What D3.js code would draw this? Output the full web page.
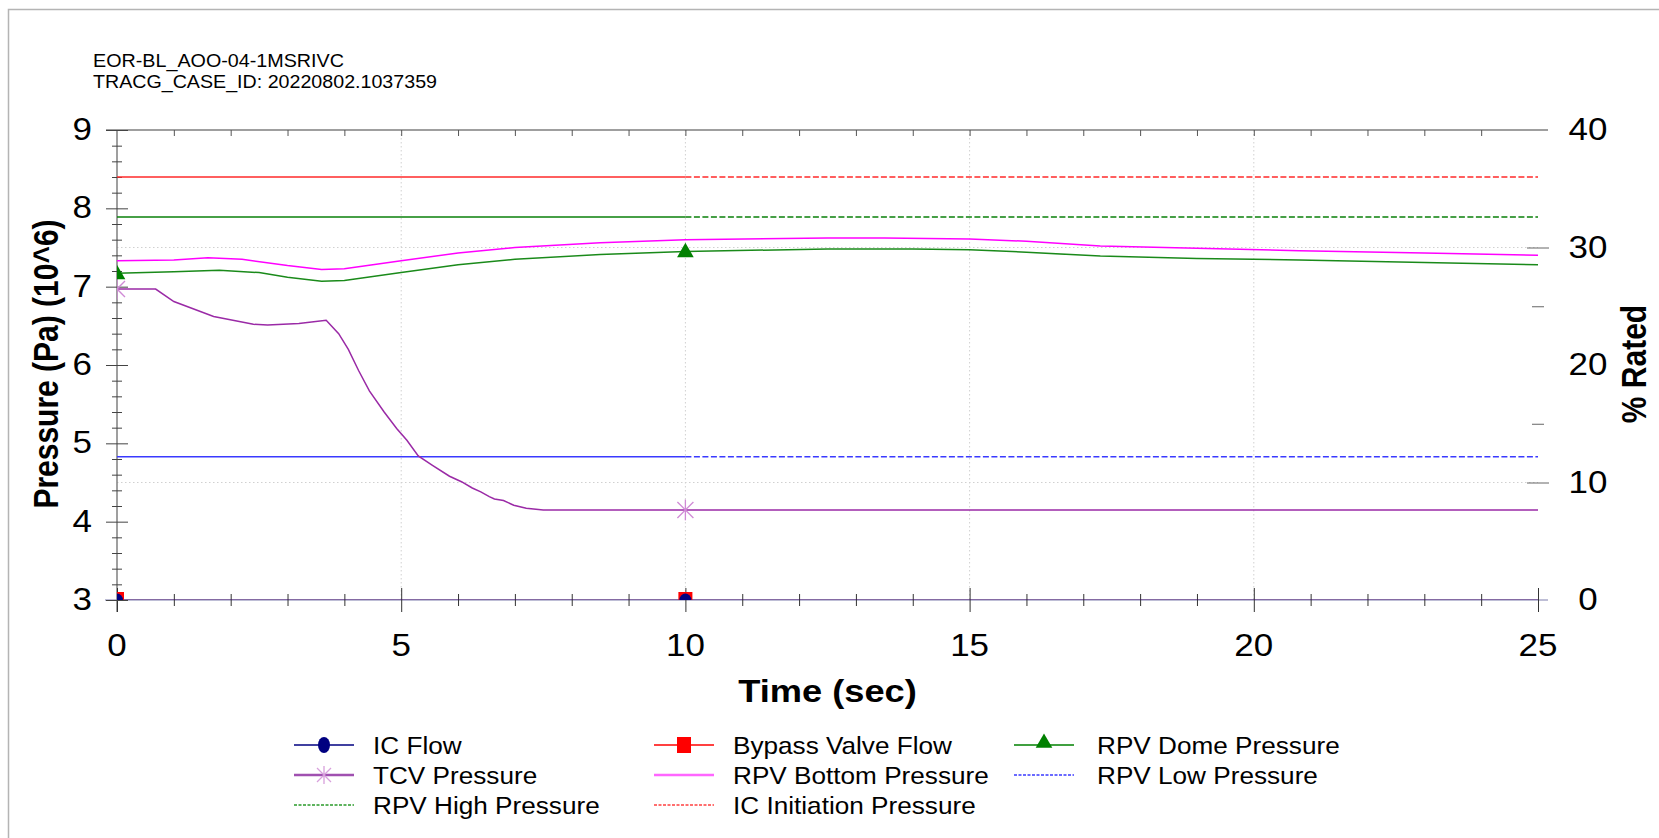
<!DOCTYPE html>
<html><head><meta charset="utf-8">
<script src="https://cdn.jsdelivr.net/npm/d3@7"></script>
<style>
body{margin:0;background:#fff;}
svg{display:block;font-family:"Liberation Sans", Arial, sans-serif;}
</style>
</head><body>
<svg id="c" width="1659" height="838"></svg>
<script>
// ---------- data ----------
const titleLines = ["EOR-BL_AOO-04-1MSRIVC", "TRACG_CASE_ID: 20220802.1037359"];
const xTicks = [0, 5, 10, 15, 20, 25];
const yLeftTicks = [3, 4, 5, 6, 7, 8, 9];
const yRightTicks = [0, 10, 20, 30, 40];
const xTitle = "Time (sec)";
const yLeftTitle = "Pressure (Pa) (10^6)";
const yRightTitle = "% Rated";

const legendNames = ["IC Flow", "Bypass Valve Flow", "RPV Dome Pressure",
  "TCV Pressure", "RPV Bottom Pressure", "RPV Low Pressure",
  "RPV High Pressure", "IC Initiation Pressure"];

// right axis (% Rated)
const icFlowTime = [0, 25];
const icFlowPct = [0, 0];
const bypassTime = [0, 25];
const bypassPct = [0, 0];

// left axis (Pressure, 10^6 Pa)
const domeTime = [0, 1.0, 1.8, 2.5, 3.0, 3.6, 4.0, 5.0, 6.0, 7.0, 8.5, 10, 12.5, 14, 15, 16, 17.3, 19, 20.8, 23, 25];
const domePressure = [7.17, 7.19, 7.21, 7.18, 7.12, 7.07, 7.08, 7.18, 7.28, 7.35, 7.41, 7.45, 7.48, 7.48, 7.47, 7.44, 7.39, 7.36, 7.34, 7.31, 7.28];

const bottomTime = [0, 1.0, 1.6, 2.2, 3.0, 3.6, 4.0, 5.0, 6.0, 7.0, 8.5, 10, 12.5, 13.5, 15, 16, 17.3, 19, 20.8, 23, 25];
const bottomPressure = [7.33, 7.34, 7.37, 7.35, 7.27, 7.22, 7.23, 7.33, 7.43, 7.50, 7.56, 7.60, 7.62, 7.62, 7.61, 7.58, 7.52, 7.49, 7.46, 7.43, 7.40];

const tcvTime = [0, 0.68, 1.0, 1.7, 2.4, 2.65, 3.2, 3.68, 3.9, 4.07, 4.25, 4.44, 4.7, 4.92, 5.1, 5.3, 5.55, 5.85, 6.06, 6.25, 6.4, 6.55, 6.64, 6.8, 6.98, 7.2, 7.5, 10, 25];
const tcvPressure = [6.97, 6.97, 6.81, 6.62, 6.52, 6.51, 6.53, 6.57, 6.40, 6.20, 5.93, 5.67, 5.40, 5.19, 5.04, 4.84, 4.72, 4.58, 4.51, 4.43, 4.38, 4.32, 4.29, 4.27, 4.21, 4.17, 4.15, 4.15, 4.15];

const lowTime = [0, 25];
const lowPressure = [4.83, 4.83];
const highTime = [0, 25];
const highPressure = [7.89, 7.89];
const icInitTime = [0, 25];
const icInitPressure = [8.40, 8.40];

const markerTimes = [0, 10];
const solidUntil = 10;   // set-point lines drawn solid up to this time, dashed after

// ---------- layout ----------
const L = 117, R = 1538, T = 130, B = 600;
const svg = d3.select("#c");

const x = d3.scaleLinear().domain([0, 25]).range([L, R]);
const yL = d3.scaleLinear().domain([3, 9]).range([B, T]);
const yR = d3.scaleLinear().domain([0, 40]).range([B, T]);

function stext(g, px, py, str, size, anchor, weight, sx, rot) {
  return g.append("text")
    .attr("transform", `translate(${px},${py})` + (rot ? " rotate(-90) scale(1," + sx + ")" : ` scale(${sx},1)`))
    .attr("text-anchor", anchor)
    .attr("font-size", size)
    .attr("font-weight", weight || "normal")
    .attr("fill", "#000")
    .text(str);
}

// outer frame
svg.append("rect").attr("x", 8.5).attr("y", 9.5).attr("width", 1800).attr("height", 1000)
  .attr("fill", "none").attr("stroke", "#b4b4b4").attr("stroke-width", 1.5);

// title
const titleWidths = [251, 344];
titleLines.forEach((s, i) => {
  svg.append("text").attr("x", 93).attr("y", 67 + i * 20.5).attr("font-size", 18.5).attr("fill", "#000")
    .attr("textLength", titleWidths[i]).attr("lengthAdjust", "spacingAndGlyphs").text(s);
});

// grid
const grid = svg.append("g");
[5, 10, 15, 20].forEach(v => {
  grid.append("line").attr("x1", x(v)).attr("x2", x(v)).attr("y1", T).attr("y2", B)
    .attr("stroke", "#d0d0d0").attr("stroke-dasharray", "1.5,2.5");
});
[10, 30].forEach(v => {
  grid.append("line").attr("x1", L).attr("x2", R).attr("y1", yR(v)).attr("y2", yR(v))
    .attr("stroke", "#d0d0d0").attr("stroke-dasharray", "1.5,2.5");
});

// axes frame lines
const axisCol = "#7f7f7f";
svg.append("line").attr("x1", L - 11).attr("x2", R + 10).attr("y1", T).attr("y2", T).attr("stroke", axisCol).attr("stroke-width", 1.5);
svg.append("line").attr("x1", L - 12).attr("x2", R + 10).attr("y1", B).attr("y2", B).attr("stroke", "#a8a8c8").attr("stroke-width", 1.5);
svg.append("line").attr("x1", L).attr("x2", L).attr("y1", T).attr("y2", B + 12).attr("stroke", axisCol).attr("stroke-width", 1.5);

// bottom axis ticks (crossing)
const xAxisG = svg.append("g").attr("transform", `translate(0,${B})`)
  .call(d3.axisBottom(x).tickValues(d3.range(0, 26, 1)).tickSize(6).tickFormat(""));
xAxisG.select(".domain").remove();
xAxisG.selectAll(".tick line").attr("stroke", "#333")
  .attr("y1", d => d % 5 === 0 ? -12 : -6).attr("y2", d => d % 5 === 0 ? 12 : 6);
// top axis ticks
const xTopG = svg.append("g").attr("transform", `translate(0,${T})`)
  .call(d3.axisTop(x).tickValues(d3.range(1, 25, 1)).tickSize(-6).tickFormat(""));
xTopG.select(".domain").remove();
xTopG.selectAll(".tick line").attr("stroke", "#555");

// left axis ticks
const yLG = svg.append("g").attr("transform", `translate(${L},0)`)
  .call(d3.axisLeft(yL).tickValues(d3.range(3, 9.01, 0.2)).tickSize(5).tickFormat(""));
yLG.select(".domain").remove();
yLG.selectAll(".tick line").attr("stroke", "#444")
  .attr("x1", d => Math.abs(d - Math.round(d)) < 1e-6 ? -11 : -5)
  .attr("x2", d => Math.abs(d - Math.round(d)) < 1e-6 ? 11 : 5);

// right axis ticks
const yRG = svg.append("g").attr("transform", `translate(${R},0)`)
  .call(d3.axisRight(yR).tickValues([10, 15, 25, 30]).tickSize(6).tickFormat(""));
yRG.select(".domain").remove();
yRG.selectAll(".tick line").attr("stroke", "#666")
  .attr("x1", d => d % 10 === 0 ? -11 : -6).attr("x2", d => d % 10 === 0 ? 11 : 6);

// tick labels
const TS = 31.5, TSX = 1.11;
xTicks.forEach(v => stext(svg, x(v), 656, String(v), TS, "middle", "normal", TSX));
yLeftTicks.forEach(v => stext(svg, 92, yL(v) + 10, String(v), TS, "end", "normal", TSX));
yRightTicks.forEach(v => stext(svg, 1588, yR(v) + 10, String(v), TS, "middle", "normal", TSX));

// axis titles
stext(svg, (L + R) / 2, 702, xTitle, 31, "middle", "bold", 1.17);
stext(svg, 58, (T + B) / 2 - 1, yLeftTitle, 30, "middle", "bold", 1.15, true);
stext(svg, 1646, (T + B) / 2 - 1, yRightTitle, 30, "middle", "bold", 1.15, true);

// ---------- plot ----------
svg.append("defs").append("clipPath").attr("id", "clip")
  .append("rect").attr("x", L).attr("y", T).attr("width", R - L).attr("height", B - T);
const plot = svg.append("g").attr("clip-path", "url(#clip)");

const zip = (ts, vs) => ts.map((t, i) => [t, vs[i]]);
const lineL = d3.line().x(d => x(d[0])).y(d => yL(d[1]));
const lineR = d3.line().x(d => x(d[0])).y(d => yR(d[1]));

function setPoint(ts, vs, color) {
  const pts = zip(ts, vs);
  const v0 = pts[0][1];
  plot.append("path").datum([[pts[0][0], v0], [solidUntil, v0]]).attr("d", lineL)
    .attr("fill", "none").attr("stroke", color).attr("stroke-width", 1.5);
  plot.append("path").datum([[solidUntil, v0], [pts[pts.length - 1][0], v0]]).attr("d", lineL)
    .attr("fill", "none").attr("stroke", color).attr("stroke-width", 1.5).attr("stroke-dasharray", "6,2.5");
}
setPoint(icInitTime, icInitPressure, "#ff2a2a");
setPoint(highTime, highPressure, "#0a800a");
setPoint(lowTime, lowPressure, "#3a3aff");

plot.append("path").datum(zip(bottomTime, bottomPressure)).attr("d", lineL)
  .attr("fill", "none").attr("stroke", "#ff00ff").attr("stroke-width", 1.5);
plot.append("path").datum(zip(domeTime, domePressure)).attr("d", lineL)
  .attr("fill", "none").attr("stroke", "#1a8a1a").attr("stroke-width", 1.5);
plot.append("path").datum(zip(tcvTime, tcvPressure)).attr("d", lineL)
  .attr("fill", "none").attr("stroke", "#9a2aa6").attr("stroke-width", 1.5);
plot.append("path").datum(zip(bypassTime, bypassPct)).attr("d", lineR)
  .attr("fill", "none").attr("stroke", "#ff0000").attr("stroke-width", 1).attr("stroke-opacity", 0.3);
plot.append("path").datum(zip(icFlowTime, icFlowPct)).attr("d", lineR)
  .attr("fill", "none").attr("stroke", "#000080").attr("stroke-width", 1.5).attr("stroke-opacity", 0.45);

// markers
const interp = (ts, vs) => d3.scaleLinear().domain(ts).range(vs);
const tcvAt = interp(tcvTime, tcvPressure), domeAt = interp(domeTime, domePressure);
const bypAt = interp(bypassTime, bypassPct), icAt = interp(icFlowTime, icFlowPct);

function asterisk(g, cx, cy, r, color) {
  const a = g.append("g").attr("stroke", color).attr("stroke-width", 1.3);
  a.append("line").attr("x1", cx - r).attr("y1", cy - r).attr("x2", cx + r).attr("y2", cy + r);
  a.append("line").attr("x1", cx - r).attr("y1", cy + r).attr("x2", cx + r).attr("y2", cy - r);
  a.append("line").attr("x1", cx).attr("y1", cy - r * 1.3).attr("x2", cx).attr("y2", cy + r * 1.3);
}
const tri = d3.symbol().type(d3.symbolTriangle).size(120);

markerTimes.forEach(t => {
  asterisk(plot, x(t), yL(tcvAt(t)), 8, "#d08ad6");
  plot.append("path").attr("d", tri).attr("transform", `translate(${x(t)},${yL(domeAt(t)) + 1})`).attr("fill", "#008000");
  plot.append("rect").attr("x", x(t) - 7).attr("y", yR(bypAt(t)) - 8).attr("width", 14).attr("height", 14).attr("fill", "#ff0000");
  plot.append("ellipse").attr("cx", x(t)).attr("cy", yR(icAt(t))).attr("rx", 6).attr("ry", 6.5).attr("fill", "#000080");
});

// ---------- legend ----------
const colX = [294, 654, 1014], textX = [373, 733, 1097], rowY = [745, 775, 805];
const legendStyle = [
  {c: "#000080", m: "circle"}, {c: "#ff0000", m: "square"}, {c: "#008000", m: "tri"},
  {c: "#a050b0", m: "ast", w: 2.5}, {c: "#ff66ff", m: null, w: 2.5}, {c: "#3a3aff", m: null, dash: "3,1.5"},
  {c: "#2a9a2a", m: null, dash: "3,1.5"}, {c: "#ff4040", m: null, dash: "3,1.5"}
];
const lg = svg.append("g");
legendNames.forEach((name, i) => {
  const col = i % 3, row = Math.floor(i / 3), st = legendStyle[i];
  const x0 = colX[col], x1 = x0 + 60, cy = rowY[row], cx = (x0 + x1) / 2;
  const ln = lg.append("line").attr("x1", x0).attr("x2", x1).attr("y1", cy).attr("y2", cy)
    .attr("stroke", st.c).attr("stroke-width", st.w || 1.5);
  if (st.dash) ln.attr("stroke-dasharray", st.dash);
  if (st.m === "circle") lg.append("ellipse").attr("cx", cx).attr("cy", cy).attr("rx", 6).attr("ry", 8).attr("fill", st.c);
  if (st.m === "square") lg.append("rect").attr("x", cx - 7).attr("y", cy - 8).attr("width", 14).attr("height", 16).attr("fill", st.c);
  if (st.m === "tri") lg.append("path").attr("d", tri).attr("transform", `translate(${cx},${cy - 2})`).attr("fill", st.c);
  if (st.m === "ast") asterisk(lg, cx, cy, 7, "#d8a0dc");
  stext(lg, textX[col], cy + 8.5, name, 24, "start", "normal", 1.09);
});
</script>
</body></html>
